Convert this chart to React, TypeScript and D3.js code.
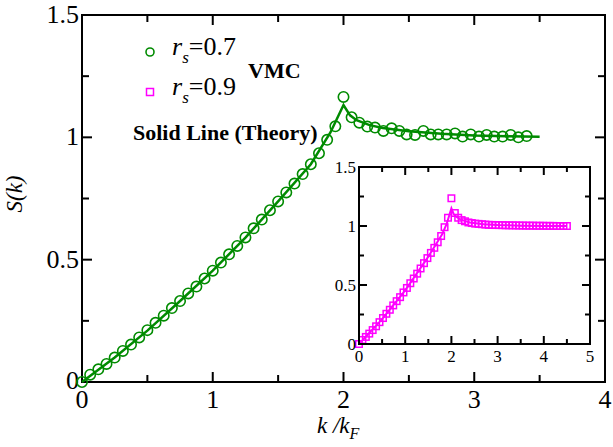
import React from "react";
import * as d3 from "d3";

// ---------- data ----------
const vmcK07 = [0, 0.0625, 0.125, 0.1875, 0.25, 0.3125, 0.375, 0.4375, 0.5, 0.5625, 0.625, 0.6875, 0.75, 0.8125, 0.875, 0.9375, 1.0, 1.0625, 1.125, 1.1875, 1.25, 1.3125, 1.375, 1.4375, 1.5, 1.5625, 1.625, 1.6875, 1.75, 1.8125, 1.875, 1.9375, 2.0,
  2.062, 2.121, 2.182, 2.241, 2.305, 2.368, 2.427, 2.483, 2.547, 2.611, 2.667, 2.725, 2.789, 2.853, 2.911, 2.973, 3.036, 3.095, 3.153, 3.217, 3.279, 3.337, 3.401];
const vmcS07 = [0, 0.03, 0.052, 0.074, 0.1, 0.127, 0.153, 0.182, 0.212, 0.242, 0.271, 0.302, 0.331, 0.362, 0.39, 0.423, 0.455, 0.488, 0.522, 0.556, 0.591, 0.628, 0.664, 0.702, 0.738, 0.775, 0.811, 0.85, 0.89, 0.935, 0.99, 1.045, 1.165,
  1.082, 1.06, 1.044, 1.04, 1.026, 1.037, 1.026, 1.012, 1.01, 1.026, 1.012, 1.012, 1.012, 1.016, 1.003, 1.012, 1.003, 1.01, 1.003, 1.003, 1.01, 1.0, 1.005];

const theoryK07 = [0, 0.25, 0.5, 0.75, 1.0, 1.25, 1.5, 1.75, 1.9, 2.0, 2.05, 2.1, 2.2, 2.3, 2.5, 2.75, 3.0, 3.25, 3.5];
const theoryS07 = [0, 0.1, 0.21, 0.331, 0.455, 0.59, 0.738, 0.89, 1.02, 1.132, 1.09, 1.07, 1.05, 1.038, 1.025, 1.015, 1.008, 1.004, 1.002];

const vmcK09 = [0, 0.074, 0.148, 0.222, 0.296, 0.37, 0.444, 0.519, 0.593, 0.667, 0.741, 0.815, 0.889, 0.963, 1.037, 1.111, 1.185, 1.259, 1.333, 1.407, 1.481, 1.556, 1.63, 1.704, 1.778, 1.852, 1.926, 2.0,
  2.074, 2.147, 2.221, 2.294, 2.368, 2.441, 2.515, 2.588, 2.662, 2.735, 2.809, 2.882, 2.956, 3.029, 3.103, 3.176, 3.25, 3.323, 3.397, 3.47, 3.544, 3.617, 3.691, 3.764, 3.838, 3.911, 3.985, 4.058, 4.132, 4.205, 4.279, 4.352, 4.426, 4.5];
const vmcS09 = [0, 0.034, 0.06, 0.088, 0.118, 0.15, 0.185, 0.22, 0.256, 0.29, 0.327, 0.363, 0.397, 0.437, 0.475, 0.515, 0.555, 0.596, 0.64, 0.685, 0.728, 0.772, 0.815, 0.862, 0.915, 0.99, 1.07, 1.235,
  1.11, 1.07, 1.05, 1.04, 1.03, 1.025, 1.02, 1.018, 1.015, 1.012, 1.01, 1.009, 1.008, 1.008, 1.007, 1.006, 1.006, 1.005, 1.005, 1.004, 1.004, 1.003, 1.003, 1.003, 1.002, 1.002, 1.002, 1.001, 1.001, 1.001, 1.0, 1.0, 1.0, 1.0];

const theoryK09 = [0, 0.5, 1.0, 1.5, 1.8, 1.9, 2.0, 2.05, 2.1, 2.2, 2.4, 2.7, 3.0, 3.5, 4.0, 4.5];
const theoryS09 = [0, 0.21, 0.455, 0.74, 0.93, 1.02, 1.15, 1.1, 1.08, 1.055, 1.03, 1.015, 1.008, 1.003, 1.001, 1.0];

const mainXTicks = [0, 1, 2, 3, 4];
const mainXMinor = [0.5, 1.5, 2.5, 3.5];
const mainYTicks = [0, 0.5, 1, 1.5];
const mainYTickLabels = ["0", "0.5", "1", "1.5"];
const mainYMinor = [0.25, 0.75, 1.25];
const insetXTicks = [0, 1, 2, 3, 4, 5];
const insetXMinor = [0.5, 1.5, 2.5, 3.5, 4.5];
const insetYTicks = [0, 0.5, 1, 1.5];
const insetYTickLabels = ["0", "0.5", "1", "1.5"];
const insetYMinor = [0.25, 0.75, 1.25];

const GREEN = "#008b00";
const MAGENTA = "#ff00ff";
const FONT = "Liberation Serif, DejaVu Serif, serif";

export default function App() {
  const x = d3.scaleLinear().domain([0, 4]).range([82, 605]);
  const y = d3.scaleLinear().domain([0, 1.5]).range([382, 15]);
  const xi = d3.scaleLinear().domain([0, 5]).range([359, 590]);
  const yi = d3.scaleLinear().domain([0, 1.5]).range([344, 167]);

  const lineMain = d3.line<number>().x((_, i) => x(theoryK07[i])).y((d) => y(d));
  const lineInset = d3.line<number>().x((_, i) => xi(theoryK09[i])).y((d) => yi(d));

  const [x0, x1] = x.range();
  const [y0, y1] = y.range();
  const [ix0, ix1] = xi.range();
  const [iy0, iy1] = yi.range();

  const sq = 6.5;
  const tf = { fontFamily: FONT } as React.CSSProperties;

  return (
    <svg width={613} height={447} style={{ position: "absolute", left: 0, top: 0, background: "#fff", fontFamily: FONT }}>
      {/* main ticks */}
      <g stroke="#000" strokeWidth={2}>
        {mainXTicks.map((t) => (
          <g key={"mx" + t}>
            <line x1={x(t)} x2={x(t)} y1={y0} y2={y0 - 10} />
            <line x1={x(t)} x2={x(t)} y1={y1} y2={y1 + 10} />
          </g>
        ))}
        {mainXMinor.map((t) => (
          <g key={"mxm" + t}>
            <line x1={x(t)} x2={x(t)} y1={y0} y2={y0 - 7} />
            <line x1={x(t)} x2={x(t)} y1={y1} y2={y1 + 7} />
          </g>
        ))}
        {mainYTicks.map((t) => (
          <g key={"my" + t}>
            <line x1={x0} x2={x0 + 10} y1={y(t)} y2={y(t)} />
            <line x1={x1} x2={x1 - 10} y1={y(t)} y2={y(t)} />
          </g>
        ))}
        {mainYMinor.map((t) => (
          <g key={"mym" + t}>
            <line x1={x0} x2={x0 + 7} y1={y(t)} y2={y(t)} />
            <line x1={x1} x2={x1 - 7} y1={y(t)} y2={y(t)} />
          </g>
        ))}
      </g>
      <rect x={x0} y={y1} width={x1 - x0} height={y0 - y1} fill="none" stroke="#000" strokeWidth={2} />

      {/* main tick labels */}
      <g fontSize={26} fill="#000">
        {mainXTicks.map((t) => (
          <text key={"mxl" + t} style={tf} x={x(t)} y={408} textAnchor="middle">{t}</text>
        ))}
        {mainYTicks.map((t, i) => (
          <text key={"myl" + t} style={tf} x={x0 - 3} y={Math.min(y(t) + 8, 389)} textAnchor="end">{mainYTickLabels[i]}</text>
        ))}
      </g>

      {/* axis titles */}
      <text style={tf} transform="translate(22,194) rotate(-90)" textAnchor="middle" fontSize={23} fontStyle="italic">S(k)</text>
      <text style={tf} x={317} y={433} fontSize={23} fontStyle="italic">
        k /k
        <tspan fontSize={16} dy={6}>F</tspan>
      </text>

      {/* main theory line and VMC circles */}
      <path d={lineMain(theoryS07) || ""} fill="none" stroke={GREEN} strokeWidth={2.5} />
      <g fill="none" stroke={GREEN} strokeWidth={1.6}>
        {vmcS07.map((s, i) => (
          <circle key={"c" + i} cx={x(vmcK07[i])} cy={y(s)} r={5.2} />
        ))}
      </g>

      {/* legend */}
      <circle cx={150} cy={52} r={4} fill="none" stroke={GREEN} strokeWidth={1.6} />
      <text style={tf} x={172} y={55} fontSize={26}>
        <tspan fontStyle="italic">r</tspan>
        <tspan fontStyle="italic" fontSize={17} dy={8}>s</tspan>
        <tspan dy={-8}>=0.7</tspan>
      </text>
      <rect x={150 - 3.5} y={92 - 3.5} width={7} height={7} fill="none" stroke={MAGENTA} strokeWidth={1.5} />
      <text style={tf} x={172} y={95} fontSize={26}>
        <tspan fontStyle="italic">r</tspan>
        <tspan fontStyle="italic" fontSize={17} dy={8}>s</tspan>
        <tspan dy={-8}>=0.9</tspan>
      </text>
      <text style={tf} x={248} y={78} fontSize={22} fontWeight="bold">VMC</text>
      <text style={tf} x={133} y={140} fontSize={22} fontWeight="bold">Solid Line (Theory)</text>

      {/* inset */}
      <rect x={ix0} y={iy1} width={ix1 - ix0} height={iy0 - iy1} fill="#fff" />
      <path d={lineInset(theoryS09) || ""} fill="none" stroke={MAGENTA} strokeWidth={2} />
      <g fill="none" stroke={MAGENTA} strokeWidth={1.5}>
        {vmcS09.map((s, i) => (
          <rect key={"s" + i} x={xi(vmcK09[i]) - sq / 2} y={yi(s) - sq / 2} width={sq} height={sq} />
        ))}
      </g>
      <g stroke="#000" strokeWidth={2}>
        {insetXTicks.map((t) => (
          <g key={"ix" + t}>
            <line x1={xi(t)} x2={xi(t)} y1={iy0} y2={iy0 - 8} />
            <line x1={xi(t)} x2={xi(t)} y1={iy1} y2={iy1 + 8} />
          </g>
        ))}
        {insetXMinor.map((t) => (
          <g key={"ixm" + t}>
            <line x1={xi(t)} x2={xi(t)} y1={iy0} y2={iy0 - 5} />
            <line x1={xi(t)} x2={xi(t)} y1={iy1} y2={iy1 + 5} />
          </g>
        ))}
        {insetYTicks.map((t) => (
          <g key={"iy" + t}>
            <line x1={ix0} x2={ix0 + 8} y1={yi(t)} y2={yi(t)} />
            <line x1={ix1} x2={ix1 - 8} y1={yi(t)} y2={yi(t)} />
          </g>
        ))}
        {insetYMinor.map((t) => (
          <g key={"iym" + t}>
            <line x1={ix0} x2={ix0 + 5} y1={yi(t)} y2={yi(t)} />
            <line x1={ix1} x2={ix1 - 5} y1={yi(t)} y2={yi(t)} />
          </g>
        ))}
      </g>
      <rect x={ix0} y={iy1} width={ix1 - ix0} height={iy0 - iy1} fill="none" stroke="#000" strokeWidth={2} />
      <g fontSize={17} fill="#000">
        {insetXTicks.map((t) => (
          <text key={"ixl" + t} style={tf} x={xi(t)} y={362} textAnchor="middle">{t}</text>
        ))}
        {insetYTicks.map((t, i) => (
          <text key={"iyl" + t} style={tf} x={ix0 - 3} y={yi(t) + 6} textAnchor="end">{insetYTickLabels[i]}</text>
        ))}
      </g>
    </svg>
  );
}
